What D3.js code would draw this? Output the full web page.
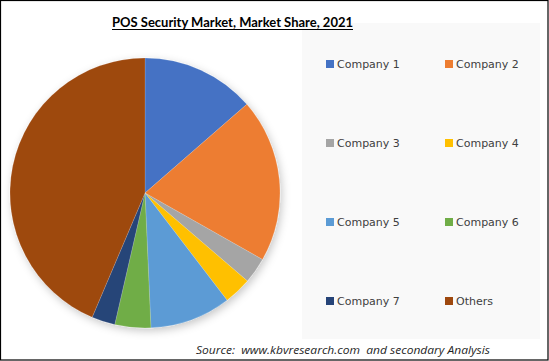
<!DOCTYPE html>
<html>
<head>
<meta charset="utf-8">
<script src="https://cdn.jsdelivr.net/npm/d3@7"></script>
<style>
html,body{margin:0;padding:0;background:#fff;}
svg{display:block;}
</style>
</head>
<body>
<script>
const categories = ["Company 1","Company 2","Company 3","Company 4","Company 5","Company 6","Company 7","Others"];
const shares = [13.6, 19.6, 3.1, 3.3, 9.7, 4.3, 2.8, 43.6];
const colors = ["#4472C4","#ED7D31","#A5A5A5","#FFC000","#5B9BD5","#70AD47","#264478","#9E480E"];
const titleText = "POS Security Market, Market Share, 2021";
const sourceText = "Source:  www.kbvresearch.com  and secondary Analysis";

const W = 549, H = 361;
const svg = d3.select("body").append("svg").attr("width", W).attr("height", H);

const defs = svg.append("defs");
const f = defs.append("filter").attr("id","sh").attr("x","-20%").attr("y","-20%").attr("width","140%").attr("height","140%");
f.append("feDropShadow").attr("dx",2).attr("dy",3).attr("stdDeviation",4).attr("flood-color","#000").attr("flood-opacity",0.22);

svg.append("rect").attr("x",0).attr("y",0).attr("width",W).attr("height",H).attr("fill","#fff");

// legend background
svg.append("rect").attr("x",302).attr("y",23).attr("width",238).attr("height",316).attr("fill","#f9f9f9");

// title
const title = svg.append("text").attr("x",232.5).attr("y",27).attr("text-anchor","middle")
  .attr("font-family","Lato, 'Open Sans', sans-serif").attr("font-weight","bold").attr("font-size",13)
  .attr("fill","#000").attr("textLength",241).attr("lengthAdjust","spacingAndGlyphs").text(titleText);
svg.append("line").attr("x1",112).attr("x2",353).attr("y1",29.5).attr("y2",29.5).attr("stroke","#000").attr("stroke-width",1);

// pie
const cx = 145, cy = 193, r = 135;
const pie = d3.pie().sort(null).value(d => d)(shares);
const arc = d3.arc().innerRadius(0).outerRadius(r);
const g = svg.append("g").attr("transform",`translate(${cx},${cy})`).attr("filter","url(#sh)");
g.selectAll("path").data(pie).join("path")
  .attr("d", arc).attr("fill",(d,i)=>colors[i]).attr("stroke","#fff").attr("stroke-width",0.3).attr("stroke-opacity",0.5);

// legend
const colX = [326, 445];
const rowY = [64, 143, 222, 301];
const lg = svg.append("g");
categories.forEach((c,i)=>{
  const x = colX[i%2], y = rowY[Math.floor(i/2)];
  lg.append("rect").attr("x",x).attr("y",y-4).attr("width",8).attr("height",8).attr("fill",colors[i]);
  lg.append("text").attr("x",x+11).attr("y",y+4).attr("font-family","'DejaVu Sans', Verdana, sans-serif")
    .attr("font-size",11).attr("fill","#404040").text(c);
});

// source
svg.append("text").attr("x",196).attr("y",354).attr("font-family","'Open Sans', 'Liberation Sans', sans-serif")
  .attr("font-style","italic").attr("font-size",11).attr("fill","#1f1f1f").attr("xml:space","preserve")
  .style("white-space","pre")
  .attr("textLength",294).attr("lengthAdjust","spacingAndGlyphs").text(sourceText);

// border
svg.append("rect").attr("x",0.5).attr("y",0.5).attr("width",W-1.5).attr("height",H-1.5).attr("fill","none").attr("stroke","#000").attr("stroke-width",1.2);
</script>
</body>
</html>
